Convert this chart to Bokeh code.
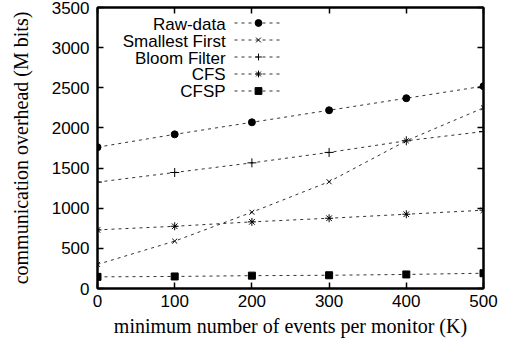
from bokeh.plotting import figure
from bokeh.models import LinearAxis, Legend, LegendItem, Label, Range1d, FixedTicker
from bokeh.embed import file_html
from bokeh.resources import INLINE

x_vals = [0, 100, 200, 300, 400, 500]
raw_data = [1760, 1920, 2070, 2220, 2370, 2520]
smallest_first = [300, 590, 950, 1330, 1840, 2250]
bloom_filter = [1325, 1445, 1565, 1695, 1840, 1955]
cfs = [730, 775, 830, 875, 925, 975]
cfsp = [145, 150, 160, 165, 175, 190]

series_names = ["Raw-data", "Smallest First", "Bloom Filter", "CFS", "CFSP"]
series_values = [raw_data, smallest_first, bloom_filter, cfs, cfsp]
markers = ["circle", "x", "cross", "asterisk", "square"]
marker_sizes = [7, 7, 9, 8, 7]

x_ticks = [0, 100, 200, 300, 400, 500]
y_ticks = [0, 500, 1000, 1500, 2000, 2500, 3000, 3500]

SANS = "Liberation Sans"
SERIF = "Liberation Serif"

p = figure(width=506, height=347, output_backend="svg", toolbar_location=None,
           x_range=Range1d(0, 500), y_range=Range1d(0, 3500),
           min_border_left=97, min_border_right=23, min_border_top=7, min_border_bottom=59)
p.background_fill_color = "white"
p.border_fill_color = "white"
p.grid.visible = False
p.outline_line_color = "black"
p.outline_line_width = 2

def style_axis(ax, labels=True):
    ax.axis_line_width = 2
    ax.axis_line_color = "black"
    ax.major_tick_in = 6
    ax.major_tick_out = 0
    ax.major_tick_line_width = 1.5
    ax.minor_tick_in = 0
    ax.minor_tick_out = 0
    if labels:
        ax.major_label_text_font = SANS
        ax.major_label_text_font_size = "17px"
        ax.major_label_text_color = "black"
    else:
        ax.major_label_text_font_size = "1px"
        ax.major_label_text_color = None
        ax.major_label_standoff = 0

p.xaxis.ticker = FixedTicker(ticks=x_ticks)
p.yaxis.ticker = FixedTicker(ticks=y_ticks)
style_axis(p.xaxis[0])
style_axis(p.yaxis[0])
p.xaxis.major_label_standoff = 6
p.yaxis.major_label_standoff = 8
p.xaxis.axis_label = "minimum number of events per monitor (K)"
p.yaxis.axis_label = "communication overhead (M bits)"
for ax in (p.xaxis[0], p.yaxis[0]):
    ax.axis_label_text_font = SERIF
    ax.axis_label_text_font_size = "20px"
    ax.axis_label_text_font_style = "normal"
    ax.axis_label_text_color = "black"
p.xaxis.axis_label_standoff = 5
p.yaxis.axis_label_standoff = 17

top_ax = LinearAxis(ticker=FixedTicker(ticks=x_ticks))
style_axis(top_ax, labels=False)
p.add_layout(top_ax, "above")
right_ax = LinearAxis(ticker=FixedTicker(ticks=y_ticks))
style_axis(right_ax, labels=False)
p.add_layout(right_ax, "right")

items = []
for name, vals, mk, ms in zip(series_names, series_values, markers, marker_sizes):
    ln = p.line(x_vals, vals, line_color="#333333", line_width=1, line_dash="3 4")
    sc = p.scatter(x_vals, vals, marker=mk, size=ms, fill_color="black",
                   line_color="black", line_width=1)
    items.append(LegendItem(label=name, renderers=[ln, sc]))

legend = Legend(items=items, location=(137, 189), margin=0, padding=0, spacing=0,
                glyph_width=48, glyph_height=17, label_text_color=None,
                label_text_font_size="1px",
                label_width=0, label_standoff=0,
                border_line_color=None, background_fill_alpha=0)
p.add_layout(legend)

row_y = [3290, 3076, 2868, 2661, 2457]
for name, yy in zip(series_names, row_y):
    p.add_layout(Label(x=166, y=yy, text=name, text_align="right", text_baseline="middle",
                       text_font=SANS, text_font_size="17px", text_color="black"))

open("out.html", "w").write(file_html(p, INLINE))
